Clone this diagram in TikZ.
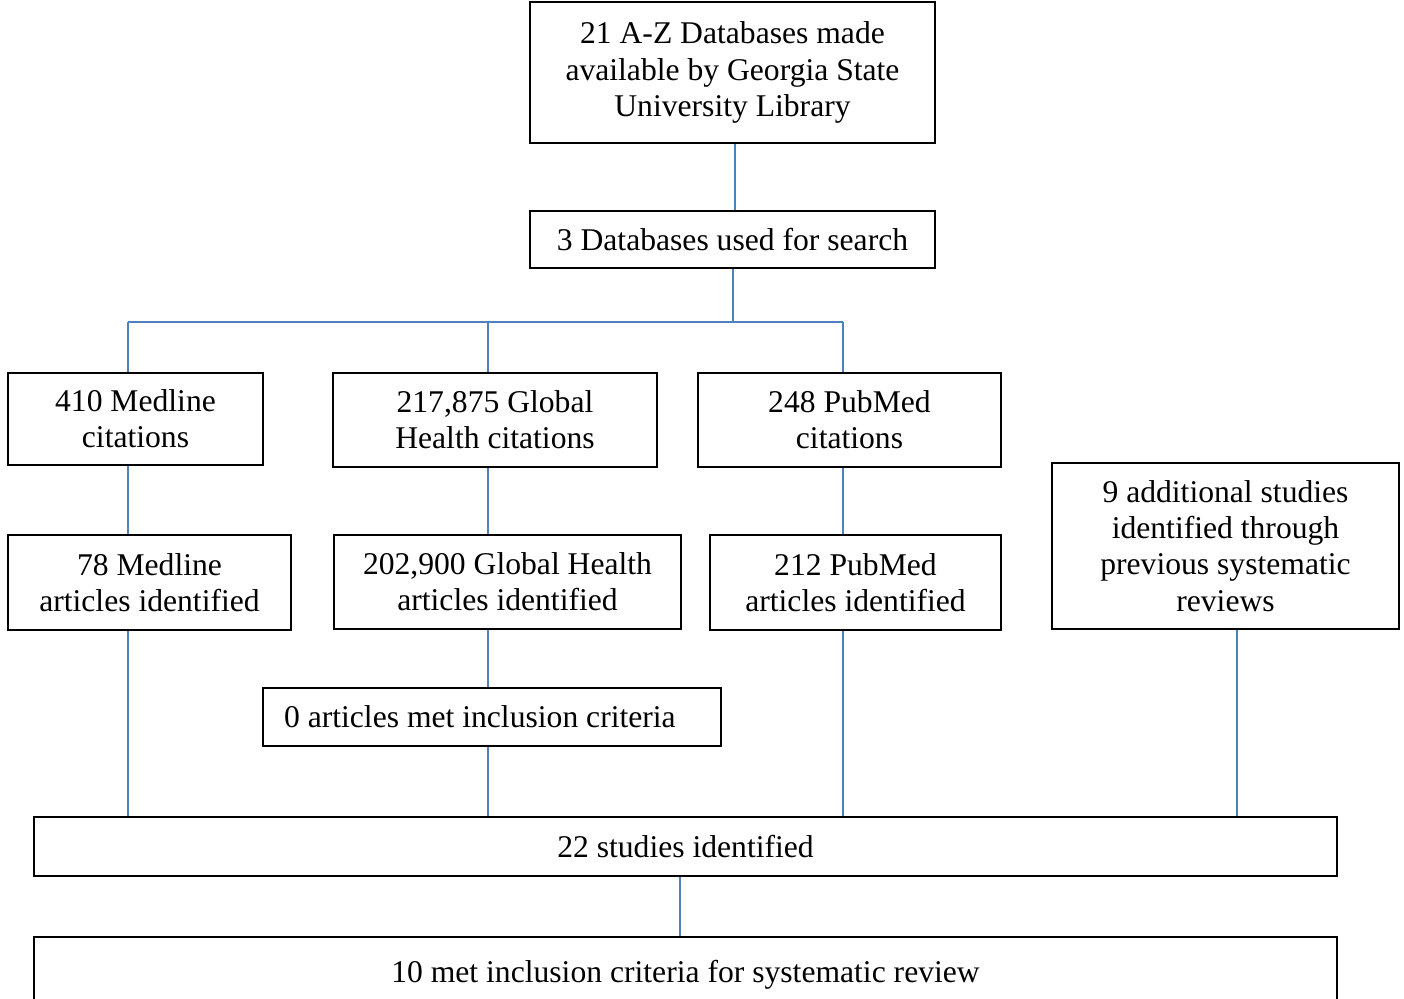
\documentclass[tikz,border=0pt]{standalone}
\usepackage{fontspec}
\setmainfont{Liberation Serif}
\usepackage{tikz}
\usetikzlibrary{positioning, arrows.meta}
\definecolor{linkblue}{HTML}{4F81BD}

\begin{document}
\begin{tikzpicture}[x=0.02cm, y=-0.02cm,
        box/.style={draw, line width=1.1pt, inner sep=0pt, align=center, font=\fontsize{18}{20.6}\selectfont},
        link/.style={draw=linkblue, line width=0.8pt}]
        \useasboundingbox (0,0) rectangle (1404,999);
        % boxes
        \node[box, minimum width=8.1cm, minimum height=2.82cm] (top) at (732.5,72.5) {21 A-Z Databases made\\available by Georgia State\\University Library};
        \node[box, minimum width=8.1cm, minimum height=1.14cm] (search) at (732.5,239.5) {3 Databases used for search};
        \node[box, minimum width=5.1cm, minimum height=1.84cm] (med) at (135.5,419) {410 Medline\\citations};
        \node[box, minimum width=6.48cm, minimum height=1.88cm] (gh) at (495,420) {217,875 Global\\Health citations};
        \node[box, minimum width=6.06cm, minimum height=1.88cm] (pub) at (849.5,420) {248 PubMed\\citations};
        \node[box, minimum width=6.94cm, minimum height=3.32cm] (add) at (1225.5,546) {9 additional studies\\identified through\\previous systematic\\reviews};
        \node[box, minimum width=5.66cm, minimum height=1.9cm] (med2) at (149.5,582.5) {78 Medline\\articles identified};
        \node[box, minimum width=6.94cm, minimum height=1.88cm] (gh2) at (507.5,582) {202,900 Global Health\\articles identified};
        \node[box, minimum width=5.82cm, minimum height=1.9cm] (pub2) at (855.5,582.5) {212 PubMed\\articles identified};
        \node[box, align=flush left, inner xsep=0.42cm, text width=8.32cm, minimum height=1.16cm] (zero) at (492,717) {0 articles met inclusion criteria};
        \node[box, minimum width=26.06cm, minimum height=1.18cm] (res) at (685.5,846.5) {22 studies identified};
        \node[box, minimum width=26.06cm, minimum height=1.52cm] (final) at (685.5,975) {10 met inclusion criteria for systematic review};
        % connectors
        \coordinate (bus) at (733,322);
        \coordinate (c1) at (128,322);
        \coordinate (c2) at (488,322);
        \coordinate (c3) at (843,322);
        \coordinate (c4) at (1237,322);
        \draw[link] (top.south -| 735,0) -- (search.north -| 735,0);
        \draw[link] (search.south -| bus) -- (bus);
        \draw[link] (c1) -- (c3);
        \draw[link] (c1) -- (c1 |- med.north);
        \draw[link] (c2) -- (c2 |- gh.north);
        \draw[link] (c3) -- (c3 |- pub.north);
        \draw[link] (c1 |- med.south) -- (c1 |- med2.north);
        \draw[link] (c2 |- gh.south) -- (c2 |- gh2.north);
        \draw[link] (c3 |- pub.south) -- (c3 |- pub2.north);
        \draw[link] (c2 |- gh2.south) -- (c2 |- zero.north);
        \draw[link] (c1 |- med2.south) -- (c1 |- res.north);
        \draw[link] (c2 |- zero.south) -- (c2 |- res.north);
        \draw[link] (c3 |- pub2.south) -- (c3 |- res.north);
        \draw[link] (c4 |- add.south) -- (c4 |- res.north);
        \draw[link] (res.south -| 680,0) -- (final.north -| 680,0);
\end{tikzpicture}
\end{document}
